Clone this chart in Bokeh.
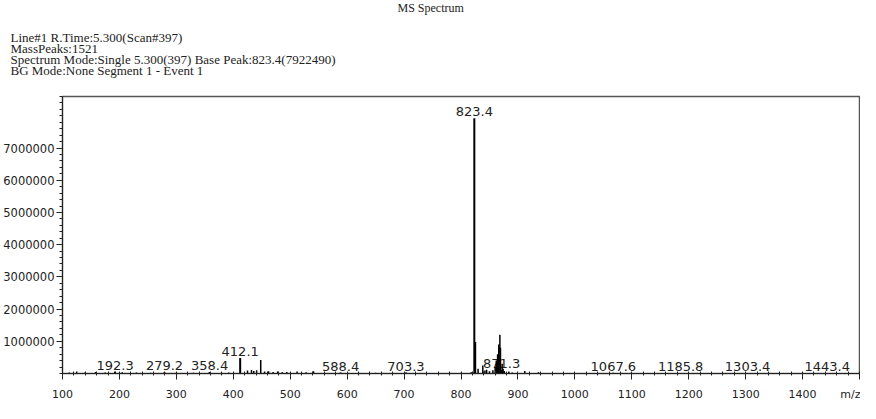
from bokeh.plotting import figure
from bokeh.models import Range1d, FixedTicker, Title
from bokeh.embed import file_html
from bokeh.resources import INLINE
from bokeh.core.properties import value

# labelled peaks (m/z, intensity)
label_mz = [192.3, 279.2, 358.4, 412.1, 588.4, 703.3, 823.4, 871.3, 1067.6, 1185.8, 1303.4, 1443.4]
label_int = [60000, 40000, 50000, 480000, 30000, 30000, 7922490, 110000, 20000, 15000, 15000, 15000]
label_txt = ["192.3", "279.2", "358.4", "412.1", "588.4", "703.3", "823.4", "871.3",
             "1067.6", "1185.8", "1303.4", "1443.4"]

# other (unlabelled) peaks
other_mz = [112, 125, 140, 158, 175, 205, 230, 255, 300, 330, 392, 425, 432, 436, 441, 448.2,
            455, 462, 470, 478, 486, 494, 512, 528, 541, 560, 620, 650, 780, 800, 818,
            825.4, 830, 838.3, 842, 845, 850, 856, 860, 862, 864.3, 866.3, 868.3, 869.3,
            872.3, 874, 876, 884, 890, 912, 936]
other_int = [30000, 60000, 40000, 50000, 30000, 40000, 30000, 25000, 20000, 25000, 30000,
             90000, 110000, 80000, 100000, 420000, 60000, 70000, 50000, 60000, 40000, 50000,
             60000, 40000, 70000, 20000, 20000, 25000, 20000, 25000, 40000,
             980000, 150000, 250000, 90000, 120000, 70000, 100000, 200000, 400000,
             600000, 900000, 1200000, 800000, 300000, 150000, 80000, 60000, 30000, 80000, 40000]

x_major = [100, 200, 300, 400, 500, 600, 700, 800, 900, 1000, 1100, 1200, 1300, 1400, 1500]
y_major = [1000000, 2000000, 3000000, 4000000, 5000000, 6000000, 7000000]

header_lines = ["Line#1    R.Time:5.300(Scan#397)",
                "MassPeaks:1521",
                "Spectrum Mode:Single 5.300(397)  Base Peak:823.4(7922490)",
                "BG Mode:None    Segment 1 - Event 1"]

W, H = 860, 403
FL, FB = 62, 373  # frame left / bottom in canvas pixels
p = figure(width=W, height=H, x_range=Range1d(100, 1500), y_range=Range1d(0, 8.6e6),
           output_backend="svg", toolbar_location=None,
           min_border_left=FL, min_border_right=1, min_border_top=0, min_border_bottom=H - FB)
p.grid.visible = False
p.outline_line_color = "#555555"
p.outline_line_width = 1.5
p.background_fill_color = "white"
p.border_fill_color = "white"

xa = p.xaxis[0]
xa.ticker = FixedTicker(ticks=x_major, minor_ticks=list(range(100, 1501, 20)))
xa.major_label_overrides = {1500: "m/z"}
xa.major_tick_in = 0
xa.major_tick_out = 6
xa.minor_tick_in = 2
xa.minor_tick_out = 2
xa.major_label_standoff = 8
xa.major_label_text_font = "DejaVu Sans"
xa.major_label_text_font_size = "11px"
xa.major_label_text_color = "#222222"
xa.axis_line_color = "#222222"
xa.major_tick_line_color = "#222222"
xa.minor_tick_line_color = "#222222"

ya = p.yaxis[0]
ya.ticker = FixedTicker(ticks=y_major, minor_ticks=list(range(0, 8600001, 200000)))
ya.major_tick_in = 0
ya.major_tick_out = 6
ya.minor_tick_in = 0
ya.minor_tick_out = 3
ya.major_label_standoff = 2
ya.major_label_text_font = "DejaVu Sans"
ya.major_label_text_font_size = "11.5px"
ya.major_label_text_color = "#222222"
ya.axis_line_color = "#222222"
ya.major_tick_line_color = "#222222"
ya.minor_tick_line_color = "#222222"
ya.formatter.use_scientific = False

# peak labels (drawn first so peaks overlay them)
p.text(x=label_mz, y=label_int, text=label_txt, text_align="center", text_baseline="bottom",
       y_offset=-2, text_font=value("DejaVu Sans"), text_font_size="13px", text_color="#222222")

p.segment(x0=other_mz, y0=[0] * len(other_mz), x1=other_mz, y1=other_int,
          line_color="black", line_width=1.5)
p.segment(x0=label_mz, y0=[0] * len(label_mz), x1=label_mz, y1=label_int,
          line_color="black", line_width=2)

# header texts as stacked titles (first added = closest to the frame)
p.add_layout(Title(text="\n".join(header_lines), align="left", offset=-(FL - 10),
                   vertical_align="top",
                   text_font="Liberation Serif", text_font_size="13px", text_font_style="normal",
                   text_color="#222222", text_line_height=0.74, standoff=33), "above")
p.add_layout(Title(text="MS Spectrum", align="left", offset=335,
                   text_font="Liberation Serif", text_font_size="12px", text_font_style="normal",
                   text_color="#222222", standoff=-3), "above")

open("out.html", "w").write(file_html(p, INLINE))
